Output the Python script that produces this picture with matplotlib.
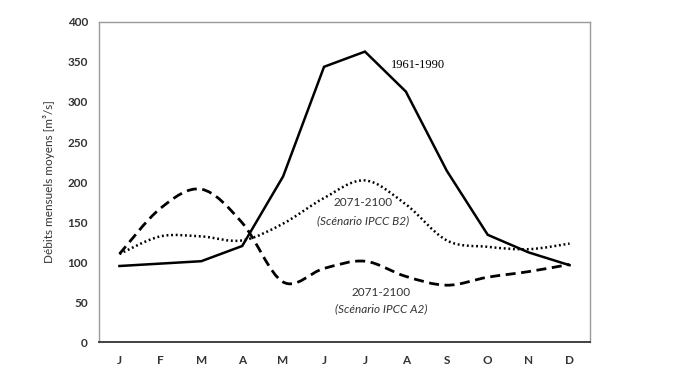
import matplotlib.pyplot as plt
from matplotlib.path import Path
from matplotlib.patches import PathPatch

months = ['J', 'F', 'M', 'A', 'M', 'J', 'J', 'A', 'S', 'O', 'N', 'D']
ref_1961_1990 = [95, 98, 101, 120, 207, 344, 363, 313, 214, 134, 112, 96]
b2_2071_2100 = [110, 132, 132, 127, 148, 180, 202, 172, 127, 119, 116, 123]
a2_2071_2100 = [110, 167, 191, 149, 75, 92, 101, 82, 71, 81, 88, 97]
yticks = [0, 50, 100, 150, 200, 250, 300, 350, 400]


def smooth_path(xs, ys):
    # Excel-style smoothed line: Catmull-Rom segments as cubic Bezier
    pts = list(zip(xs, ys))
    verts = [pts[0]]
    codes = [Path.MOVETO]
    n = len(pts)
    for i in range(n - 1):
        p0 = pts[max(i - 1, 0)]
        p1 = pts[i]
        p2 = pts[i + 1]
        p3 = pts[min(i + 2, n - 1)]
        c1 = (p1[0] + (p2[0] - p0[0]) / 6, p1[1] + (p2[1] - p0[1]) / 6)
        c2 = (p2[0] - (p3[0] - p1[0]) / 6, p2[1] - (p3[1] - p1[1]) / 6)
        verts += [c1, c2, p2]
        codes += [Path.CURVE4] * 3
    return Path(verts, codes)


fig = plt.figure(figsize=(6.84, 3.76), dpi=100)
ax = fig.add_axes([0.1447, 0.0904, 0.7179, 0.8511])

x = list(range(len(months)))
ax.plot(x, ref_1961_1990, color='black', lw=1.8, solid_joinstyle='miter')

ax.add_patch(PathPatch(smooth_path(x, b2_2071_2100), fill=False, edgecolor='black',
                       lw=1.8, linestyle=(0, (0.75, 1.1)), capstyle='butt'))
ax.add_patch(PathPatch(smooth_path(x, a2_2071_2100), fill=False, edgecolor='black',
                       lw=2.0, linestyle=(0, (3.6, 2.0))))

ax.set_xlim(-0.5, 11.5)
ax.set_ylim(0, 400)
ax.set_xticks(x)
ax.set_xticklabels(months)
ax.set_yticks(yticks)
ax.tick_params(length=0, labelsize=8.5, colors='#333333')
ax.tick_params(axis='x', pad=9)
ax.tick_params(axis='y', pad=8)
for lab in ax.get_xticklabels() + ax.get_yticklabels():
    lab.set_fontfamily('Lato')
    lab.set_fontweight('bold')

for side in ['top', 'right', 'left']:
    ax.spines[side].set_color('#9a9a9a')
    ax.spines[side].set_linewidth(1.0)
ax.spines['bottom'].set_color('#333333')
ax.spines['bottom'].set_linewidth(1.3)

ax.set_ylabel('Débits mensuels moyens [m³/s]', fontsize=8.5, family='Lato', color='#333333',
              labelpad=9)

ax.text(7.3, 346, '1961-1990', fontsize=9, family='Liberation Serif', ha='center', va='center')
ax.text(5.95, 174, '2071-2100', fontsize=8.5, family='Lato', color='#333333',
        ha='center', va='center')
ax.text(5.95, 152, '(Scénario IPCC B2)', fontsize=8.5, family='Lato', style='italic',
        color='#333333', ha='center', va='center')
ax.text(6.4, 62, '2071-2100', fontsize=8.5, family='Lato', color='#333333',
        ha='center', va='center')
ax.text(6.4, 41, '(Scénario IPCC A2)', fontsize=8.5, family='Lato', style='italic',
        color='#333333', ha='center', va='center')

fig.savefig('out.png', dpi=100)
